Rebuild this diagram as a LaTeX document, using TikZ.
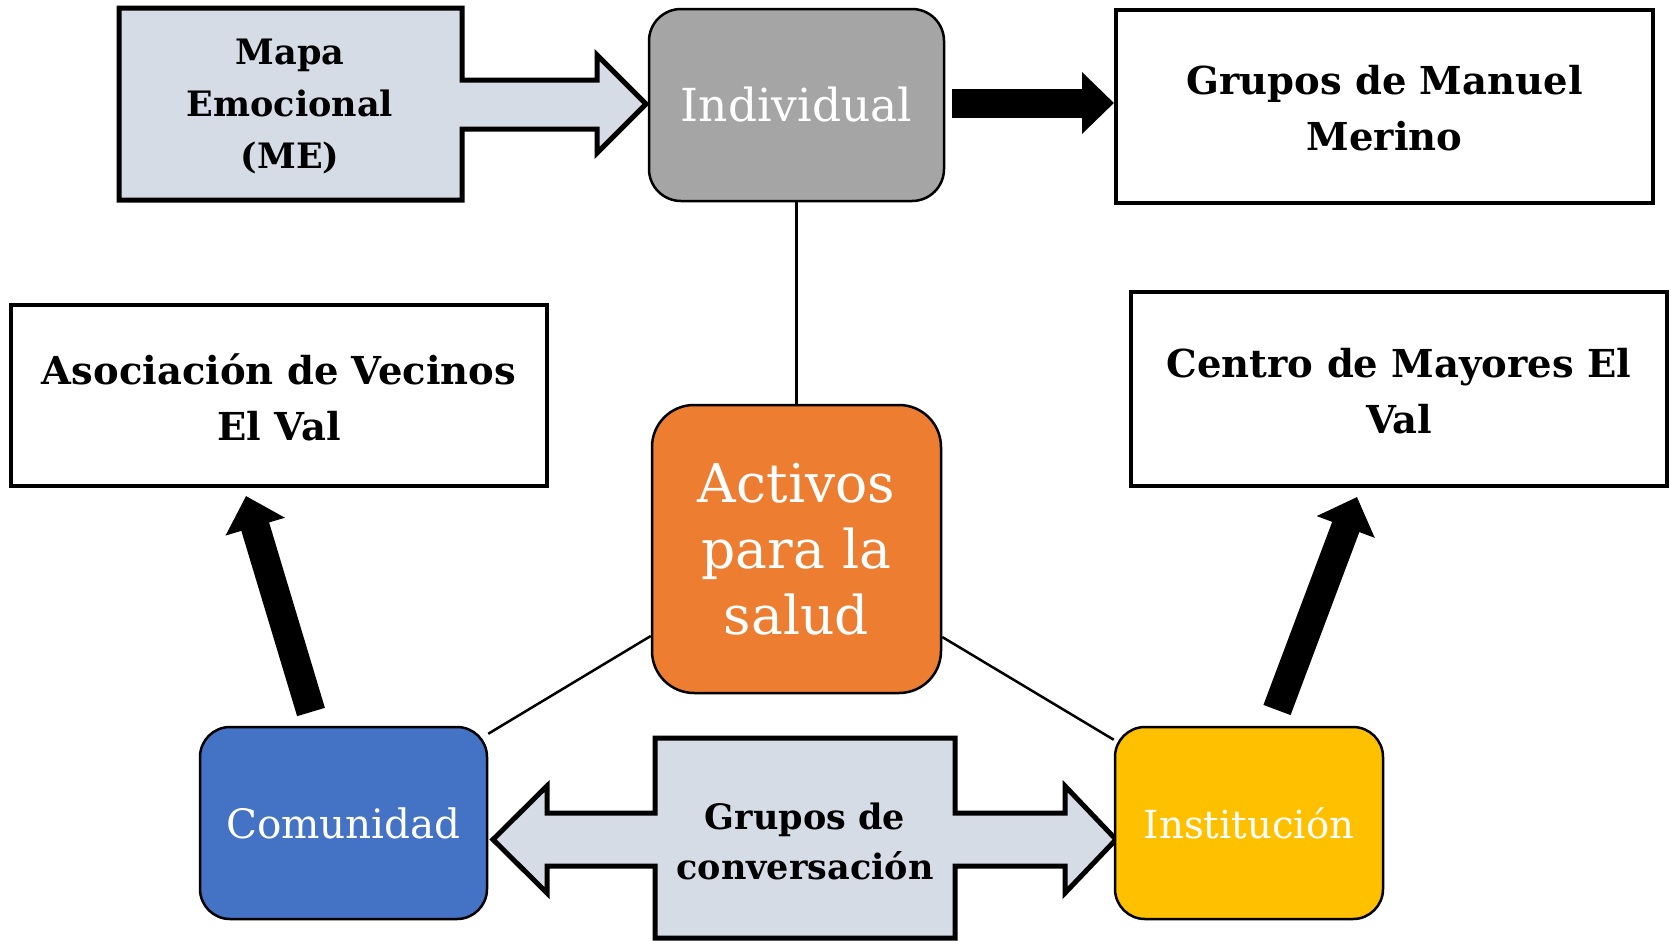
\documentclass[tikz,border=0pt]{standalone}
\usepackage{fontspec}
\setmainfont{DejaVu Serif}
\usetikzlibrary{arrows.meta,calc}
\definecolor{callfill}{HTML}{D6DCE5}
\definecolor{indgray}{HTML}{A5A5A5}
\definecolor{actorange}{HTML}{ED7D31}
\definecolor{comblue}{HTML}{4472C4}
\definecolor{instyellow}{HTML}{FFC000}
\begin{document}
\begin{tikzpicture}[x=1pt,y=-1pt,
  plainbox/.style={draw=black, line width=4pt, fill=white, inner sep=0pt},
  roundbox/.style={draw=black, line width=2.5pt, rounded corners=32pt, inner sep=0pt},
  boldtxt/.style={font=\fontsize{38.5}{56}\selectfont\bfseries, align=center, text=black},
  whitetxt/.style={font=\fontsize{40}{50}\selectfont, align=center, text=white},
  callout/.style={draw=black, line width=5pt, fill=callfill, line join=miter},
  link/.style={draw=black, line width=2.5pt},
  bigarrow/.style={draw=black, line width=29pt, -{Triangle[length=32pt,width=60pt]}}
]
\useasboundingbox (0,0) rectangle (1671,940);
\fill[white] (0,0) rectangle (1671,940);

% callout: Mapa Emocional
\draw[callout] (119,8) -- (462,8) -- (462,80) -- (597,80) -- (597,55) -- (646,104)
  -- (597,153) -- (597,129) -- (462,129) -- (462,200) -- (119,200) -- cycle;
\node[boldtxt, font=\fontsize{35}{52}\selectfont\bfseries] (mapa) at (290,106) {Mapa\\Emocional\\(ME)};

% callout: Grupos de conversacion
\draw[callout] (655,738) -- (955,738) -- (955,813) -- (1065,813) -- (1065,786) -- (1116,839.5)
  -- (1065,893) -- (1065,866) -- (955,866) -- (955,938) -- (655,938) -- (655,866)
  -- (547,866) -- (547,893) -- (493,839.5) -- (547,786) -- (547,813) -- (655,813) -- cycle;
\node[boldtxt, font=\fontsize{35}{50}\selectfont\bfseries] (conv) at (805,841) {Grupos de\\conversación};

% nodes
\node[roundbox, fill=indgray, minimum width=295pt, minimum height=192pt] (ind) at (796.5,105) {};
\node[whitetxt, font=\fontsize{45.5}{50}\selectfont] at (ind.center) {Individual};

\node[plainbox, minimum width=537pt, minimum height=193pt] (gmm) at (1384.5,106) {};
\node[boldtxt] at (1384.5,108) {Grupos de Manuel\\Merino};

\node[plainbox, minimum width=536pt, minimum height=181pt] (aso) at (279,395.5) {};
\node[boldtxt] at (279,397) {Asociación de Vecinos\\El Val};

\node[plainbox, minimum width=536pt, minimum height=194pt] (cen) at (1399,389) {};
\node[boldtxt] at (1399,391) {Centro de Mayores El\\Val};

\node[roundbox, rounded corners=42pt, fill=actorange, minimum width=289pt, minimum height=288pt] (act) at (796.5,549) {};
\node[whitetxt, font=\fontsize{53.5}{66}\selectfont] at (act.center) {Activos\\para la\\salud};

\node[roundbox, rounded corners=30pt, fill=comblue, minimum width=287pt, minimum height=192pt] (com) at (343.5,823) {};
\node[whitetxt, font=\fontsize{40.5}{50}\selectfont] at (com.center) {Comunidad};

\node[roundbox, rounded corners=30pt, fill=instyellow, minimum width=268pt, minimum height=192pt] (ins) at (1249,823) {};
\node[whitetxt, font=\fontsize{38.6}{50}\selectfont] at (ins.center) {Institución};

% connectors
\draw[link] (ind.south) -- (act.north);
\draw[link] ([yshift=-87pt]act.west) -- ([yshift=-8pt]com.north east);
\draw[link] ([yshift=-88pt]act.east) -- ([yshift=-14pt]ins.north west);

\draw[bigarrow] ([xshift=7pt,yshift=2pt]ind.east) -- ([yshift=3pt]gmm.west);

\coordinate (lbase) at (311,712);
\coordinate (ltip) at (246,496);
\coordinate (rbase) at (1277,710);
\coordinate (rtip) at (1357,497);
\draw[bigarrow] (lbase) -- (ltip);
\draw[bigarrow] (rbase) -- (rtip);
\end{tikzpicture}
\end{document}
